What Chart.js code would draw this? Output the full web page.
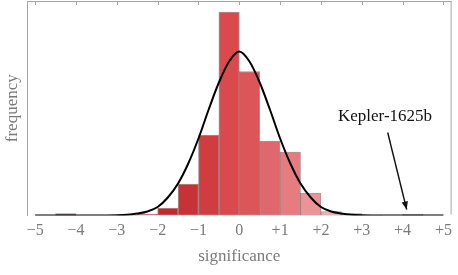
<!DOCTYPE html>
<html>
<head>
<meta charset="utf-8">
<script src="https://cdn.jsdelivr.net/npm/chart.js@4/dist/chart.umd.min.js"></script>
<style>
html,body{margin:0;padding:0;background:#fff;}
#wrap{width:458px;height:275px;}
</style>
</head>
<body>
<div id="wrap"><canvas id="c" width="458" height="275"></canvas></div>
<script>
// ---- data ----
const binCenters = [-4.75,-4.25,-3.75,-3.25,-2.75,-2.25,-1.75,-1.25,-0.75,-0.25,0.25,0.75,1.25,1.75,2.25,2.75,3.25,3.75,4.25,4.75];
const binCounts  = [0, 1, 0, 0, 0.25, 0.75, 3.75, 15.75, 40.25, 101.75, 72, 37.25, 31.75, 11.25, 2, 1, 0.25, 0, 0.75, 0];
const curveX = [-5,-4,-3.5,-3,-2.75,-2.5,-2.25,-2,-1.75,-1.5,-1.25,-1,-0.75,-0.5,-0.25,0,0.25,0.5,0.75,1,1.25,1.5,1.75,2,2.25,2.5,2.75,3,3.5,4,5];
const curveY = [0,0,0,0.15,0.4,1,2,4.25,9,16,26,38.5,53,66.5,77,82,77,66.5,53,38.5,26,16,9,4.25,2,1,0.4,0.15,0,0,0];
const xTicks = [-5,-4,-3,-2,-1,0,1,2,3,4,5];
const annotationText = "Kepler-1625b";

// ---- styling ----
const binColors = ['#ffffff','#3c3434','#ffffff','#ffffff','#a33a3a','#b5262b','#c2282d','#c83136','#d13c41','#d9494e','#dc5559','#e0676b','#e47c80','#e99497','#eeafb1','#f0c6c7','#e2dcdc','#ffffff','#b9b9b9','#ffffff'];
const serif = "'Liberation Serif', 'DejaVu Serif', serif";
const grey = '#a6a6a6';
const textGrey = '#7a7a7a';

const fmt = v => v < 0 ? '\u2212' + Math.abs(v) : (v > 0 ? '+' + v : '0');

const framePlugin = {
  id: 'frame',
  afterDatasetsDraw(chart) {
    const {ctx, chartArea: a, scales: {x}} = chart;
    ctx.save();
    ctx.strokeStyle = grey;
    ctx.lineWidth = 1;
    ctx.beginPath();
    ctx.moveTo(a.left, a.top + 0.5); ctx.lineTo(a.right, a.top + 0.5);
    ctx.moveTo(a.right - 0.5, a.top); ctx.lineTo(a.right - 0.5, a.bottom - 1);
    xTicks.forEach(t => {
      const px = Math.round(x.getPixelForValue(t)) + 0.5;
      ctx.moveTo(px, a.top); ctx.lineTo(px, a.top + 4);
    });
    ctx.stroke();
    ctx.restore();
  },
  afterDraw(chart) {
    const {ctx, scales: {x, y}} = chart;
    ctx.save();
    ctx.font = "17px " + serif;
    ctx.fillStyle = '#111';
    ctx.textAlign = 'center';
    ctx.textBaseline = 'middle';
    ctx.fillText(annotationText, x.getPixelForValue(3.57), y.getPixelForValue(49.25));
    const x0 = x.getPixelForValue(3.635), y0 = y.getPixelForValue(41.5);
    const x1 = x.getPixelForValue(4.1), y1 = y.getPixelForValue(3.0);
    ctx.strokeStyle = '#111';
    ctx.fillStyle = '#111';
    ctx.lineWidth = 1.4;
    ctx.beginPath(); ctx.moveTo(x0, y0); ctx.lineTo(x1, y1); ctx.stroke();
    const ang = Math.atan2(y1 - y0, x1 - x0);
    const L = 8, W = 3.2;
    ctx.beginPath();
    ctx.moveTo(x1, y1);
    ctx.lineTo(x1 - L*Math.cos(ang) + W*Math.sin(ang), y1 - L*Math.sin(ang) - W*Math.cos(ang));
    ctx.lineTo(x1 - L*Math.cos(ang) - W*Math.sin(ang), y1 - L*Math.sin(ang) + W*Math.cos(ang));
    ctx.closePath(); ctx.fill();
    ctx.restore();
  }
};

new Chart(document.getElementById('c'), {
  data: {
    datasets: [
      {
        type: 'line',
        data: curveX.map((v, i) => ({x: v, y: curveY[i]})),
        borderColor: '#000',
        borderWidth: 2,
        pointRadius: 0,
        fill: false,
        cubicInterpolationMode: 'monotone',
        order: 0
      },
      {
        type: 'bar',
        data: binCenters.map((v, i) => ({x: v, y: binCounts[i]})),
        backgroundColor: binColors,
        borderColor: 'rgba(70,15,15,0.45)',
        borderWidth: 1,
        borderSkipped: false,
        barPercentage: 1,
        categoryPercentage: 1,
        order: 1
      }
    ]
  },
  options: {
    responsive: false,
    animation: false,
    devicePixelRatio: 1,
    layout: {padding: {top: 1, right: 3, left: 0, bottom: 0}},
    plugins: {legend: {display: false}, tooltip: {enabled: false}},
    scales: {
      x: {
        type: 'linear',
        offset: false,
        min: -5.2, max: 5.2,
        afterFit: s => { s.height = 59.5; },
        grid: {display: false, drawTicks: false, offset: false},
        border: {display: false},
        ticks: {
          includeBounds: false,
          stepSize: 1,
          padding: 6,
          maxRotation: 0,
          autoSkip: false,
          color: textGrey,
          font: {family: serif, size: 16},
          callback: v => fmt(v)
        },
        afterBuildTicks: s => { s.ticks = xTicks.map(v => ({value: v})); },
        title: {
          display: true, text: 'significance', color: textGrey,
          font: {family: serif, size: 17},
          padding: {top: 0, bottom: 8}
        }
      },
      y: {
        min: 0, max: 107.25,
        afterFit: s => { s.width = 27; },
        grid: {display: false, drawTicks: false},
        border: {display: true, color: grey, width: 1},
        ticks: {display: false},
        title: {
          display: true, text: 'frequency', color: textGrey,
          font: {family: serif, size: 17},
          padding: {top: 2, bottom: 0}
        }
      }
    }
  },
  plugins: [framePlugin]
});
</script>
</body>
</html>
